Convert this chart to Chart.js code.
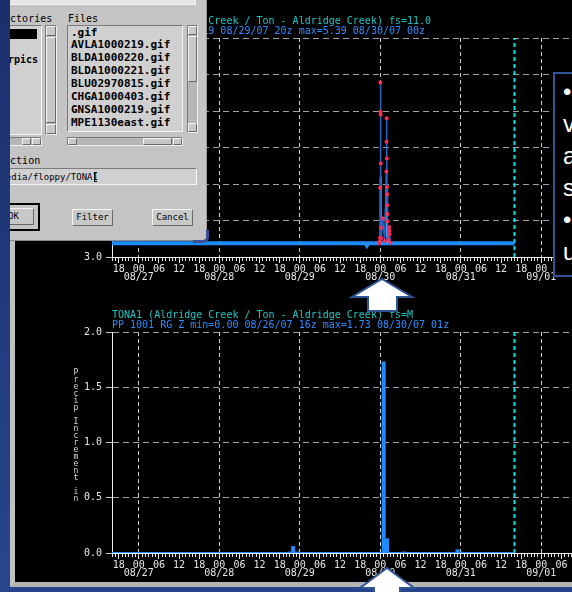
<!DOCTYPE html>
<html><head><meta charset="utf-8">
<title>TONA1 Aldridge Creek hydrograph</title>
<script src="https://cdn.jsdelivr.net/npm/chart.js@4.4.1/dist/chart.umd.min.js"></script>
<style>
html,body{margin:0;padding:0;}
body{width:572px;height:592px;overflow:hidden;position:relative;background:linear-gradient(180deg,#1b2f6b 0%,#28458c 100%);}
#win{position:absolute;left:10px;top:-10px;width:620px;height:597px;background:#000;border-left:5px solid #c0c0c0;border-bottom:5px solid #b4b4b4;box-sizing:border-box;}
canvas{position:absolute;left:0;}
#c1{top:0;}
#c2{top:300px;}
#ytitle{position:absolute;left:72px;top:369px;width:8px;font:8px/7px 'DejaVu Sans Mono',monospace;color:#d8d8d8;text-align:center;}
#dlg{position:absolute;left:10px;top:0;width:197px;height:241px;background:#c4c4c4;overflow:hidden;border-right:1px solid #9a9a9a;border-bottom:1px solid #8a8a8a;box-sizing:border-box;font-family:'DejaVu Sans Mono',monospace;color:#000;}
#dlg .ab{position:absolute;}
.sunk{background:#d0d0d0;border:1px solid;border-color:#7a7a7a #f4f4f4 #f4f4f4 #7a7a7a;box-sizing:border-box;}
.raised{background:#c8c8c8;border:1px solid;border-color:#f4f4f4 #6a6a6a #6a6a6a #f4f4f4;box-sizing:border-box;}
.trough{background:#b6b6b6;border:1px solid;border-color:#7a7a7a #f0f0f0 #f0f0f0 #7a7a7a;box-sizing:border-box;}
.lbl{font-size:10px;line-height:12px;white-space:pre;}
.files{font-size:11px;font-weight:bold;line-height:12.9px;white-space:pre;}
.btn{font-size:9px;line-height:15px;text-align:center;}
#corner{position:absolute;left:193px;top:230px;width:16px;height:13px;border-right:3px solid #3b4f96;border-bottom:3px solid #3b4f96;border-bottom-right-radius:6px;box-sizing:border-box;}
#note{position:absolute;left:553px;top:72px;width:80px;height:205px;border:2px solid #2f5597;background:#000;box-sizing:border-box;color:#fff;font-family:'Liberation Sans',Arial,sans-serif;font-size:24px;line-height:32px;padding:2px 0 0 8px;white-space:nowrap;overflow:hidden;}
#arrows{position:absolute;left:0;top:0;}
</style>
</head>
<body>
<div id="win"></div>
<canvas id="c1" width="597" height="290"></canvas>
<canvas id="c2" width="597" height="285"></canvas>
<div id="ytitle"></div>

<div id="dlg">
  <div class="ab sunk" style="left:-5px;top:-6px;width:191px;height:11px;background:#e6e6e6"></div>
  <div class="ab lbl" style="left:-24px;top:13px">Directories</div>
  <div class="ab lbl" style="left:58px;top:13px">Files</div>
  <div class="ab sunk" style="left:-5px;top:25px;width:37px;height:110px"></div>
  <div class="ab" style="left:-5px;top:29px;width:32px;height:10px;background:#000"></div>
  <div class="ab files" style="left:-2px;top:54px;font-size:10px">rpics</div>
  <div class="ab trough" style="left:35px;top:25px;width:12px;height:110px"></div>
  <div class="ab raised" style="left:36px;top:26px;width:10px;height:10px"></div>
  <div class="ab raised" style="left:36px;top:37px;width:10px;height:86px"></div>
  <div class="ab raised" style="left:36px;top:124px;width:10px;height:10px"></div>
  <div class="ab sunk" style="left:57px;top:25px;width:116px;height:107px"></div>
  <div class="ab files" style="left:61px;top:26.5px">.gif
AVLA1000219.gif
BLDA1000220.gif
BLDA1000221.gif
BLU02970815.gif
CHGA1000403.gif
GNSA1000219.gif
MPE1130east.gif</div>
  <div class="ab trough" style="left:177px;top:25px;width:11px;height:108px"></div>
  <div class="ab raised" style="left:178px;top:26px;width:9px;height:9px"></div>
  <div class="ab raised" style="left:178px;top:36px;width:9px;height:46px"></div>
  <div class="ab raised" style="left:178px;top:123px;width:9px;height:9px"></div>
  <div class="ab trough" style="left:-5px;top:137px;width:37px;height:9px"></div>
  <div class="ab raised" style="left:12px;top:138px;width:9px;height:7px"></div>
  <div class="ab raised" style="left:22px;top:138px;width:9px;height:7px"></div>
  <div class="ab trough" style="left:57px;top:137px;width:116px;height:9px"></div>
  <div class="ab raised" style="left:58px;top:138px;width:9px;height:7px"></div>
  <div class="ab raised" style="left:133px;top:138px;width:29px;height:7px"></div>
  <div class="ab raised" style="left:163px;top:138px;width:9px;height:7px"></div>
  <div class="ab lbl" style="left:-24px;top:155px">Selection</div>
  <div class="ab sunk" style="left:-5px;top:168px;width:192px;height:17px;overflow:hidden">
    <div class="ab" style="left:-11px;top:1px;font-size:9px;line-height:14px;white-space:pre">/media/floppy/TONA1</div>
    <div class="ab" style="left:88px;top:3px;width:3px;height:10px;border-left:1px solid #000;border-top:1px solid #000;border-bottom:1px solid #000;box-sizing:border-box"></div>
  </div>
  <div class="ab" style="left:-5px;top:203px;width:35px;height:28px;border:2px solid #000;box-sizing:border-box"></div>
  <div class="ab raised btn" style="left:-5px;top:208px;width:29px;height:17px;overflow:visible"><span style="position:absolute;left:2px;top:0">OK</span></div>
  <div class="ab raised btn" style="left:62px;top:209px;width:41px;height:17px">Filter</div>
  <div class="ab raised btn" style="left:142px;top:209px;width:41px;height:17px">Cancel</div>
</div>
<div id="corner"></div>

<div id="note"><div>• Stage</div><div>values</div><div>are</div><div>suspect</div><div>• Check</div><div>upstream</div></div>

<svg id="arrows" width="572" height="592" xmlns="http://www.w3.org/2000/svg">
  <polygon points="382,279 412,297 397,297 397,311 368,311 368,297 352,297" fill="#fff" stroke="#2f5597" stroke-width="2"/>
  <polygon points="387,568 414,588 400,588 400,600 374,600 374,588 360,588" fill="#fff" stroke="#2f5597" stroke-width="2"/>
</svg>

<script>
const mono = "'DejaVu Sans Mono', monospace";
Chart.defaults.font.family = mono;
Chart.defaults.font.size = 10;
Chart.defaults.animation = false;

// ---- data (time in hours since 08/26/07 00z) ----
const dayLabels = ['08/26', '08/27', '08/28', '08/29', '08/30', '08/31', '09/01'];
const xStart = 16;      // 08/26 16z
const xEnd = 160;       // 09/01 16z
const nowHour = 136;    // 08/31 16z (cyan line)

const stageTimes  = [16, 91.6, 92, 92.4, 136];
const stageValues = [3.19, 3.19, 3.16, 3.19, 3.19];

const hourlyTimes  = [95.8, 96.0, 96.1, 96.2, 97.6, 97.8, 98.0, 98.3];
const hourlyValues = [3.19, 3.19, 4.10, 3.53, 3.53, 3.93, 3.30, 3.19];

const obsTimes  = [95.6, 95.8, 95.9, 95.95, 96.0, 96.05, 96.1, 96.15, 96.2, 96.3, 96.7, 97.3,
                   97.8, 97.85, 97.9, 97.95, 98.0, 98.05, 98.1, 98.15, 98.2, 98.4, 98.65, 98.7, 98.75, 99.0];
const obsValues = [3.19, 3.21, 3.26, 3.95, 5.39, 4.99, 4.95, 4.28, 3.40, 3.26, 3.53, 3.22,
                   4.17, 4.58, 4.90, 4.35, 3.96, 3.86, 3.71, 3.59, 3.49, 3.24, 3.41, 3.36, 3.31, 3.20];

const precipTimes  = [69, 70, 71, 97, 98, 103, 119, 120];
const precipValues = [0.01, 0.06, 0.01, 1.73, 0.13, 0.01, 0.03, 0.01];
const precipBaseTimes = [16, 136];
const precipBaseValues = [0, 0];

const stageTitle = 'TONA1 (Aldridge Creek / Ton - Aldridge Creek) fs=11.0';
const stageSub = 'HG 0 RZZ min=3.19 08/29/07 20z max=5.39 08/30/07 00z';
const precipTitle = 'TONA1 (Aldridge Creek / Ton - Aldridge Creek) fs=M';
const precipSub = 'PP 1001 RG Z min=0.00 08/26/07 16z max=1.73 08/30/07 01z';
const precipAxisTitle = 'Precip Increment in';

// ---- helpers ----
const toXY = (xs, ys) => xs.map((x, i) => ({x: x, y: ys[i]}));

function tickLabel(v) {
  const hr = ((v % 24) + 24) % 24;
  if (hr % 6 !== 0) return '';
  const hh = String(hr).padStart(2, '0');
  if (hr === 0) return [hh, dayLabels[Math.round(v / 24)] || ''];
  return hh;
}

function xAxis(h) {
  return {
    type: 'linear', min: xStart, max: xEnd, offset: false,
    afterBuildTicks: s => { const t = []; for (let k = xStart; k <= xEnd; k++) t.push({value: k}); s.ticks = t; },
    afterFit: s => { s.height = h; },
    ticks: {autoSkip: false, maxRotation: 0, minRotation: 0, color: '#e6e6e6', padding: 2,
            font: {family: mono, size: 10, lineHeight: 0.85}, callback: v => tickLabel(v)},
    grid: {
      offset: false,
      color: c => (c.tick && c.tick.value % 24 === 0) ? '#cfcfcf' : 'rgba(0,0,0,0)',
      lineWidth: 1, tickLength: 6, tickColor: '#e6e6e6',
      tickBorderDash: c => (c.tick && c.tick.value % 6 === 0) ? [] : [3, 40]
    },
    border: {display: true, color: '#f0f0f0', width: 1, dash: [4, 3]}
  };
}

function yAxis(min, max) {
  return {
    type: 'linear', min: min, max: max,
    afterFit: s => { s.width = 112; },
    ticks: {stepSize: 0.5, color: '#e6e6e6', padding: 4, font: {family: mono, size: 10}, callback: v => v.toFixed(1)},
    grid: {color: '#a0a0a0', lineWidth: 1, tickLength: 6, tickColor: '#c8c8c8', tickBorderDash: []},
    border: {display: true, color: '#f0f0f0', width: 1, dash: [6, 4]}
  };
}

function titles(t, s, padTop) {
  return {
    legend: {display: false},
    tooltip: {enabled: false},
    title: {display: true, text: t, align: 'start', fullSize: false, color: '#22c2c2',
            font: {family: mono, size: 10, lineHeight: 1, weight: 'normal'}, padding: {top: padTop, bottom: 0}},
    subtitle: {display: true, text: s, align: 'start', fullSize: false, color: '#2f8cff',
               font: {family: mono, size: 10, lineHeight: 1, weight: 'normal'}, padding: {top: 0, bottom: 2}}
  };
}

// ---- stage hydrograph ----
new Chart(document.getElementById('c1'), {
  type: 'line',
  data: {datasets: [
    {label: 'HG obs', data: toXY(obsTimes, obsValues), borderColor: '#2e62c0', borderWidth: 1.5,
     pointRadius: 2, pointBackgroundColor: '#ff2a55', pointBorderWidth: 0, order: 0},
    {label: 'HG hourly', data: toXY(hourlyTimes, hourlyValues), borderColor: '#4aa6ff', borderWidth: 2, pointRadius: 0, order: 1},
    {label: 'HG stage', data: toXY(stageTimes, stageValues), borderColor: '#1e8cff', borderWidth: 4, pointRadius: 0, order: 2},
    {label: 'now', data: toXY([nowHour, nowHour], [3, 6]), borderColor: '#00e5e5', borderWidth: 2, borderDash: [4, 3], pointRadius: 0, order: 3}
  ]},
  options: {
    responsive: false, devicePixelRatio: 1, animation: false, events: [],
    layout: {padding: 0, autoPadding: false},
    plugins: titles(stageTitle, stageSub, 16),
    scales: {x: xAxis(33), y: yAxis(3, 6)}
  }
});

// ---- precipitation increments ----
new Chart(document.getElementById('c2'), {
  type: 'line',
  data: {datasets: [
    {type: 'bar', label: 'PP', data: toXY(precipTimes, precipValues), backgroundColor: '#1e8cff',
     borderWidth: 0, barPercentage: 1, categoryPercentage: 1, order: 2},
    {type: 'line', label: 'PP base', data: toXY(precipBaseTimes, precipBaseValues), borderColor: '#1e8cff', borderWidth: 2, pointRadius: 0, order: 1},
    {type: 'line', label: 'now', data: toXY([nowHour, nowHour], [0, 2]), borderColor: '#00e5e5', borderWidth: 2, borderDash: [4, 3], pointRadius: 0, order: 3}
  ]},
  options: {
    responsive: false, devicePixelRatio: 1, animation: false, events: [],
    layout: {padding: 0, autoPadding: false},
    plugins: titles(precipTitle, precipSub, 10),
    scales: {x: xAxis(32), y: yAxis(0, 2)}
  }
});

// stacked y-axis title letters
const yt = document.getElementById('ytitle');
for (const ch of precipAxisTitle) {
  const d = document.createElement('div');
  d.textContent = ch === ' ' ? '\u00a0' : ch;
  yt.appendChild(d);
}
</script>
</body></html>
